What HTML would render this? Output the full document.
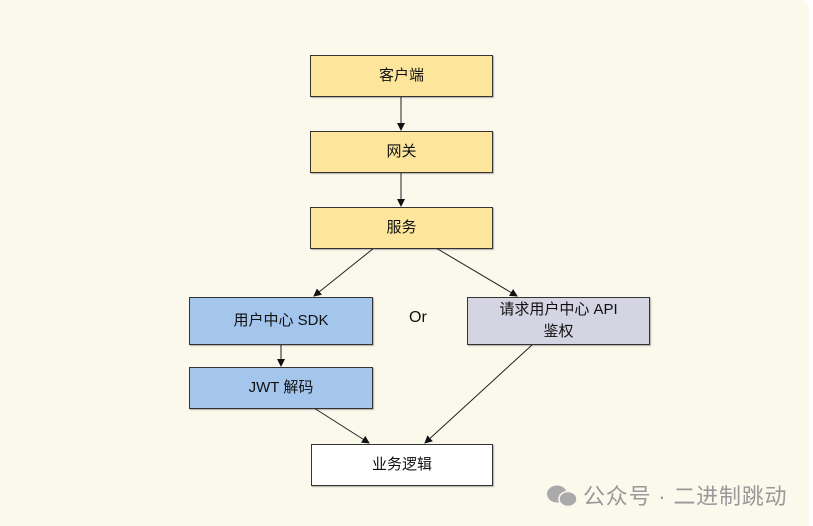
<!DOCTYPE html>
<html><head><meta charset="utf-8"><style>
html,body{margin:0;padding:0;width:813px;height:526px;overflow:hidden;background:#fff}
.bg{position:absolute;left:0;top:0;width:809px;height:526px;background:#fbf8ec;border-top-right-radius:10px}
.b{position:absolute;box-sizing:border-box;border:1px solid #333;display:flex;align-items:center;justify-content:center;text-align:center;font-family:"Liberation Sans","Noto Sans CJK SC",sans-serif;font-size:15px;color:#111;line-height:22px;box-shadow:1px 1px 1px rgba(0,0,0,0.3)}
.y{background:#fde69c}.bl{background:#a4c5ec}.g{background:#d4d4e2}.w{background:#fff}
.t{position:absolute;font-family:"Liberation Sans","Noto Sans CJK SC",sans-serif}
</style></head><body>
<div class="bg"></div>
<svg style="position:absolute;left:0;top:0" width="813" height="526">
<defs><marker id="a" markerWidth="8" markerHeight="8" refX="7" refY="4" orient="auto" markerUnits="userSpaceOnUse"><path d="M0,0 L8,4 L0,8 z" fill="#111"/></marker></defs>
<g stroke="#222" stroke-width="1" fill="none" marker-end="url(#a)">
<line x1="401" y1="96" x2="401" y2="130"/>
<line x1="401" y1="172" x2="401" y2="206"/>
<line x1="374" y1="248" x2="314" y2="296"/>
<line x1="436" y1="248" x2="517" y2="296"/>
<line x1="281" y1="344" x2="281" y2="366"/>
<line x1="314" y1="408" x2="369" y2="443"/>
<line x1="532" y1="345" x2="425" y2="443"/>
</g></svg>
<div class="b y" style="left:310px;top:55px;width:183px;height:42px">客户端</div>
<div class="b y" style="left:310px;top:131px;width:183px;height:42px">网关</div>
<div class="b y" style="left:310px;top:207px;width:183px;height:42px">服务</div>
<div class="b bl" style="left:189px;top:297px;width:184px;height:48px">用户中心 SDK</div>
<div class="b bl" style="left:189px;top:367px;width:184px;height:42px">JWT 解码</div>
<div class="b g" style="left:467px;top:297px;width:183px;height:48px">请求用户中心 API<br>鉴权</div>
<div class="b w" style="left:311px;top:444px;width:182px;height:42px">业务逻辑</div>
<div class="t" style="left:409px;top:309px;font-size:16px;color:#111">Or</div>
<div class="t" style="left:545px;top:479px;font-size:22px;color:#999;white-space:nowrap;letter-spacing:0.8px">
<svg width="38" height="26" style="vertical-align:-5px"><ellipse cx="12" cy="11" rx="10" ry="8.5" fill="#aaa"/><ellipse cx="23" cy="16" rx="9" ry="7.5" fill="#aaa" stroke="#fbf8ec" stroke-width="1.5"/></svg>公众号 · 二进制跳动</div>
</body></html>
